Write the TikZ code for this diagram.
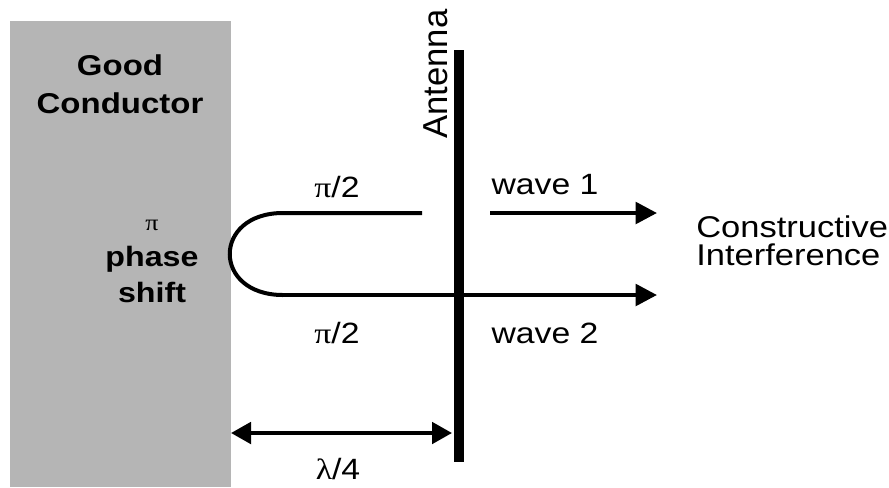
\documentclass[tikz,border=0pt]{standalone}
\usepackage{fontspec}
\setmainfont[FakeStretch=1.15]{Liberation Sans}
\newfontfamily\plainsans{Liberation Sans}
\newfontfamily\greekserif[FakeStretch=1.15]{Liberation Serif}
\usetikzlibrary{arrows.meta}

\tikzset{
  lbl/.style={inner sep=0.75pt, font=\fontsize{22}{26}\selectfont},
  condlbl/.style={inner sep=0.75pt, align=center, font=\fontsize{21.5}{28.5}\selectfont\bfseries},
  ray/.style={line width=3.2pt, -{Triangle[length=16pt,width=16pt]}},
  span/.style={line width=3pt, {Triangle[length=15pt,width=16pt]}-{Triangle[length=15pt,width=16pt]}},
}
\newcommand{\gpi}{{\greekserif π}}
\newcommand{\glam}{{\greekserif λ}}

\begin{document}
\begin{tikzpicture}[x=0.75pt,y=0.75pt,yscale=-1,xscale=1]
	\useasboundingbox (0,0) rectangle (889,487);

	%%CONDUCTOR---------------------------------------------
	\fill [gray!58] (10,21) rectangle (231,487);
	% Text Node
	\node [condlbl] (good) at (120,84) {Good\\Conductor};
	% Text Node
	\node [condlbl, font=\fontsize{21}{27}\selectfont\bfseries] (shift) at (152,261) {{\mdseries\fontsize{17}{17}\selectfont\gpi}\\phase\\shift};

	%%ANTENNA---------------------------------------------
	\coordinate (antTop) at (459,50);
	\coordinate (antBot) at (459,462);
	\draw [line width=7.5pt] (antTop) -- (antBot);
	% Text Node
	\node [lbl, font=\fontsize{26}{28}\plainsans, rotate=90] (ant) at (436,74) {Antenna};

	%%WAVES---------------------------------------------
	\coordinate (w1a) at (422,213);
	\coordinate (bendTop) at (283,213);
	\coordinate (bendBot) at (283,295);
	\coordinate (w1s) at (490,213);
	\coordinate (w1e) at (657,213);
	\coordinate (w2e) at (657,295);

	%%reflected path
	\draw [line width=3pt] (w1a) -- (bendTop) .. controls (212,213) and (212,295) .. (bendBot);
	\draw [ray] (bendBot) -- (w2e);
	\draw [ray] (w1s) -- (w1e);

	%%Spacing arrow
	\coordinate (spL) at (231,433);
	\coordinate (spR) at (452,433);
	\draw [span] (spL) -- (spR);

	% Text Node
	\node [lbl] (ph1) at (337,187) {\gpi/2};
	% Text Node
	\node [lbl] (ph2) at (337,333) {\gpi/2};
	% Text Node
	\node [lbl] (wv1) at (545,185) {wave 1};
	% Text Node
	\node [lbl] (wv2) at (545,333) {wave 2};
	% Text Node
	\node [lbl, anchor=west, align=left, font=\fontsize{22.5}{21}\selectfont] (ci) at (695,241) {Constructive\\Interference};
	% Text Node
	\node [lbl] (quarter) at (338,469) {\glam/4};

\end{tikzpicture}
\end{document}
